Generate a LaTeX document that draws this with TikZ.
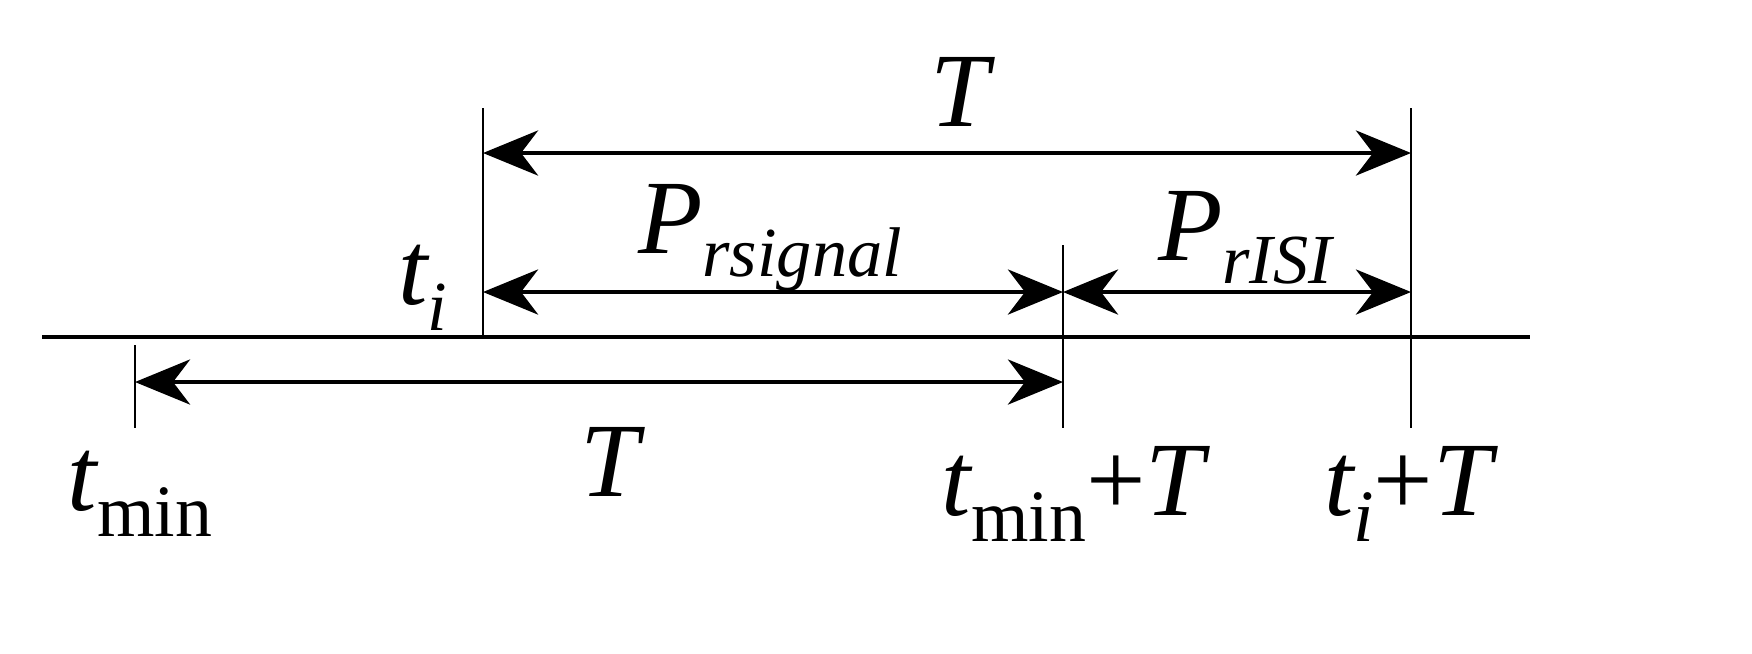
\documentclass[tikz,border=0pt]{standalone}
\usepackage{fontspec}
\setmainfont{Liberation Serif}
\usetikzlibrary{arrows.meta}
\begin{document}
\begin{tikzpicture}[x=0.01cm,y=-0.01cm,
  thick line/.style={line width=1.4pt},
  tick/.style={line width=0.45pt},
  dim/.style={line width=1.4pt,{Stealth[length=0.55cm,width=0.45cm,inset=0.17cm]}-{Stealth[length=0.55cm,width=0.45cm,inset=0.17cm]}},
  lab/.style={font=\fontsize{30}{30}\selectfont\itshape, inner sep=0pt}]
\fill[white] (0,0) rectangle (1752,653);
\useasboundingbox (0,0) rectangle (1752,653);
\coordinate (L0) at (42,337); \coordinate (L1) at (1530,337);
\draw[thick line] (L0) -- (L1);
\coordinate (a1) at (135,345); \coordinate (a2) at (135,428);
\coordinate (b1) at (483,108); \coordinate (b2) at (483,337);
\coordinate (c1) at (1063,245); \coordinate (c2) at (1063,428);
\coordinate (d1) at (1411,108); \coordinate (d2) at (1411,428);
\draw[tick] (a1)--(a2) (b1)--(b2) (c1)--(c2) (d1)--(d2);
\coordinate (tT1) at (483,153); \coordinate (tT2) at (1411,153);
\coordinate (ps1) at (483,292); \coordinate (ps2) at (1063,292);
\coordinate (pi2) at (1411,292);
\coordinate (bT1) at (135,382); \coordinate (bT2) at (1063,382);
\draw[dim] (tT1) -- (tT2);
\draw[dim] (ps1) -- (ps2);
\draw[dim] (ps2) -- (pi2);
\draw[dim] (bT1) -- (bT2);
\node[lab] (T1) at (960,92) {T};
\node[lab] (Ps) at (770,238) {P\raisebox{-0.22em}{\fontsize{20}{20}\selectfont rsignal}};
\node[lab] (Pi) at (1245,238) {P\raisebox{-0.22em}{\fontsize{20}{20}\selectfont rISI}};
\node[lab] (ti) at (423,288) {t\raisebox{-0.25em}{\fontsize{20}{20}\selectfont i}};
\node[lab] (T2) at (610,462) {T};
\node[lab] (tmin) at (140,494) {t\raisebox{-0.25em}{\fontsize{21}{21}\selectfont\upshape min}};
\node[lab] (tminT) at (1073,494) {t\raisebox{-0.25em}{\fontsize{21}{21}\selectfont\upshape min}\upshape+\itshape T};
\node[lab] (tiT) at (1408,494) {t\raisebox{-0.25em}{\fontsize{21}{21}\selectfont i}\upshape+\itshape T};
\end{tikzpicture}
\end{document}
